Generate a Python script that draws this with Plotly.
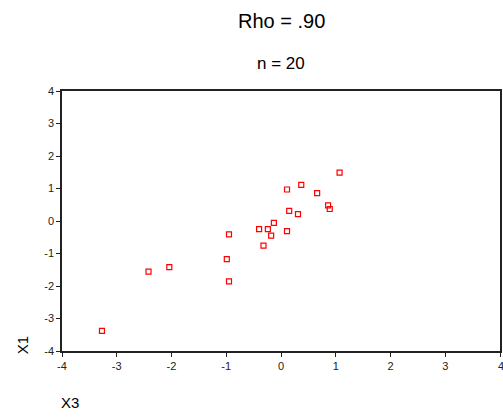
import plotly.graph_objects as go

x3 = [1.07, 0.37, 0.11, 0.66, 0.86, 0.89, 0.15, 0.31, -0.13, -0.40,
      -0.24, -0.18, 0.11, -0.95, -0.32, -0.99, -0.95, -2.42, -2.04, -3.27]
x1 = [1.49, 1.11, 0.97, 0.86, 0.48, 0.37, 0.31, 0.21, -0.06, -0.25,
      -0.25, -0.45, -0.31, -0.41, -0.76, -1.17, -1.86, -1.56, -1.42, -3.38]
tick_vals = [-4, -3, -2, -1, 0, 1, 2, 3, 4]
tick_text = ["-4", "-3", "-2", "-1", "0", "1", "2", "3", "4"]
title_text = "Rho = .90"
subtitle_text = "n = 20"

fig = go.Figure()
fig.add_trace(go.Scatter(
    x=x3, y=x1, mode="markers",
    marker=dict(symbol="square-open", size=5, color="#ff0000", line=dict(width=1.2, color="#ff0000")),
    showlegend=False,
))

axis_common = dict(
    range=[-4, 4], tickvals=tick_vals, ticktext=tick_text, ticks="outside", ticklen=4, tickwidth=1,
    tickcolor="#222222", showline=True, linecolor="#222222", linewidth=1.5,
    mirror=True, showgrid=False, zeroline=False,
    tickfont=dict(family="Arial, Liberation Sans", size=11, color="#222222"),
)
fig.update_xaxes(**axis_common)
fig.update_yaxes(**axis_common)

fig.update_layout(
    width=503, height=418,
    margin=dict(l=62, r=1, t=91, b=67),
    plot_bgcolor="white", paper_bgcolor="white",
    font=dict(family="Arial, Liberation Sans", color="#000000"),
    annotations=[
        dict(text=title_text, x=282, y=21, showarrow=False, font=dict(size=20)),
        dict(text=subtitle_text, x=282, y=64, showarrow=False, font=dict(size=17)),
        dict(text="X1", x=22, y=345, showarrow=False, textangle=-90, font=dict(size=15)),
        dict(text="X3", x=70, y=402, showarrow=False, font=dict(size=15)),
        # last x tick label, partly cut by the page edge as in the original
        dict(text=tick_text[-1], x=503, y=366, showarrow=False,
             font=dict(size=11, color="#222222")),
    ],
)

# convert pixel positions of annotations to paper coordinates
W, H = 503, 418
l, r, t, b = 62, 1, 91, 67
pw, ph = W - l - r, H - t - b
for a in fig.layout.annotations:
    px, py = a.x, a.y
    a.xref = "paper"
    a.yref = "paper"
    a.x = (px - l) / pw
    a.y = (H - b - py) / ph
    a.xanchor = "center"
    a.yanchor = "middle"

fig.write_html("out.html")
